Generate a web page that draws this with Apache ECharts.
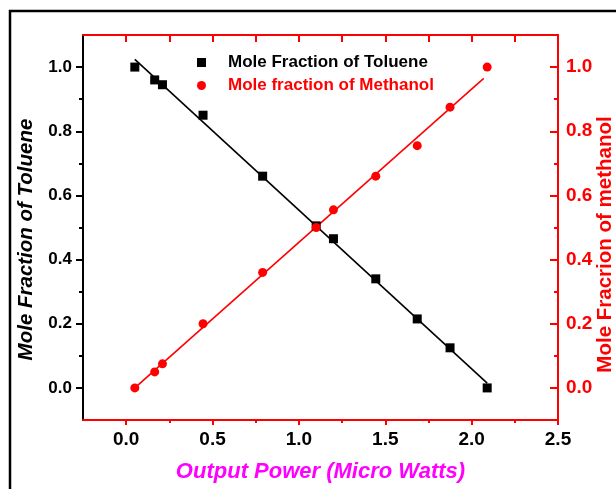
<!DOCTYPE html>
<html><head><meta charset="utf-8">
<script src="https://cdn.jsdelivr.net/npm/echarts@6/dist/echarts.min.js"></script>
<style>html,body{margin:0;padding:0;background:#fff}#c{width:616px;height:489px}</style>
</head><body><div id="c"></div>
<script>
// ---- data ----
const powerToluene = [0.05, 0.165, 0.21, 0.445, 0.79, 1.10, 1.20, 1.445, 1.685, 1.875, 2.09];
const tolueneFraction = [1.0, 0.96, 0.945, 0.85, 0.66, 0.505, 0.465, 0.34, 0.215, 0.125, 0.0];
const powerMethanol = [0.05, 0.165, 0.21, 0.445, 0.79, 1.10, 1.20, 1.445, 1.685, 1.875, 2.09];
const methanolFraction = [0.0, 0.05, 0.075, 0.2, 0.36, 0.50, 0.555, 0.66, 0.755, 0.875, 1.0];
const tolueneFitX = [0.05, 2.09];
const tolueneFitY = [1.024, 0.015];
const methanolFitX = [0.05, 2.07];
const methanolFitY = [0.0, 0.965];
const xMajorTicks = [0, 0.5, 1.0, 1.5, 2.0, 2.5];
const xMinorTicks = [0.25, 0.75, 1.25, 1.75, 2.25];
const xTopTicks = [0, 0.25, 0.5, 0.75, 1.0, 1.25, 1.5, 1.75, 2.0, 2.25];
const yMajorTicks = [0, 0.2, 0.4, 0.6, 0.8, 1.0];
const yMinorTicks = [0.1, 0.3, 0.5, 0.7, 0.9];
const nameToluene = 'Mole Fraction of Toluene';
const nameMethanol = 'Mole fraction of Methanol';

const FONT = '"Liberation Sans", Arial, sans-serif';
const zip = (a, b) => a.map((v, i) => [v, b[i]]);
const fmt = v => Number(v).toFixed(1);
const X_MIN = -0.25, X_MAX = 2.5, Y_MIN = -0.1, Y_MAX = 1.1;

const chart = echarts.init(document.getElementById('c'), null, {renderer: 'canvas'});
chart.setOption({
  animation: false,
  backgroundColor: '#fff',
  grid: {left: 83, top: 35, right: 58, bottom: 69, containLabel: false, outerBoundsMode: 'none'},
  graphic: [{
    type: 'rect', shape: {x: 10, y: 11, width: 700, height: 600},
    style: {fill: 'none', stroke: '#000', lineWidth: 2.5}, silent: true
  }],
  legend: {
    orient: 'vertical', left: 192, top: 49, itemWidth: 9, itemHeight: 9, itemGap: 6,
    textStyle: {fontFamily: FONT, fontSize: 17, fontWeight: 'bold', padding: [0, 0, 0, 17]},
    data: [
      {name: nameToluene, icon: 'rect', textStyle: {color: '#000'}},
      {name: nameMethanol, icon: 'circle', textStyle: {color: '#ff0000'}}
    ]
  },
  xAxis: [
    { type: 'value', position: 'bottom', min: X_MIN, max: X_MAX,
      name: 'Output Power (Micro Watts)', nameLocation: 'middle', nameGap: 41, nameMoveOverlap: false,
      nameTextStyle: {fontFamily: FONT, fontSize: 22, fontWeight: 'bold', fontStyle: 'italic', color: '#ff00ff'},
      axisLine: {show: true, onZero: false, lineStyle: {color: '#ff0000', width: 2}},
      axisTick: {show: true, inside: false, length: 5, customValues: xMajorTicks, lineStyle: {color: '#ff0000', width: 2}},
      axisLabel: {customValues: xMajorTicks, formatter: fmt, margin: 10, fontFamily: FONT, fontSize: 19, fontWeight: 'bold', color: '#000'},
      splitLine: {show: false} },
    { type: 'value', position: 'bottom', min: X_MIN, max: X_MAX,
      axisLine: {show: false, onZero: false},
      axisTick: {show: true, inside: false, length: 3, customValues: xMinorTicks, lineStyle: {color: '#ff0000', width: 2}},
      axisLabel: {show: false}, splitLine: {show: false} },
    { type: 'value', position: 'top', min: X_MIN, max: X_MAX,
      axisLine: {show: true, onZero: false, lineStyle: {color: '#ff0000', width: 2}},
      axisTick: {show: true, inside: true, length: 7, customValues: xTopTicks, lineStyle: {color: '#ff0000', width: 2}},
      axisLabel: {show: false}, splitLine: {show: false} }
  ],
  yAxis: [
    { type: 'value', position: 'left', min: Y_MIN, max: Y_MAX,
      name: 'Mole Fraction of Toluene', nameLocation: 'middle', nameGap: 47, nameRotate: 90, nameMoveOverlap: false,
      nameTextStyle: {fontFamily: FONT, fontSize: 20.5, fontWeight: 'bold', fontStyle: 'italic', color: '#000', padding: [0, 24, 0, 0]},
      axisLine: {show: true, onZero: false, lineStyle: {color: '#000', width: 2}},
      axisTick: {show: true, inside: false, length: 7, customValues: yMajorTicks, lineStyle: {color: '#000', width: 2}},
      axisLabel: {customValues: yMajorTicks, formatter: fmt, margin: 11, fontFamily: FONT, fontSize: 17, fontWeight: 'bold', color: '#000'},
      splitLine: {show: false} },
    { type: 'value', position: 'right', min: Y_MIN, max: Y_MAX,
      name: 'Mole Fracrion of methanol', nameLocation: 'middle', nameGap: 37, nameRotate: 90, nameMoveOverlap: false,
      nameTextStyle: {fontFamily: FONT, fontSize: 20.5, fontWeight: 'bold', color: '#ff0000', padding: [0, 34, 0, 0]},
      axisLine: {show: true, onZero: false, lineStyle: {color: '#ff0000', width: 2}},
      axisTick: {show: true, inside: true, length: 8, customValues: yMajorTicks, lineStyle: {color: '#ff0000', width: 2}},
      axisLabel: {customValues: yMajorTicks, formatter: fmt, margin: 8, fontFamily: FONT, fontSize: 19, fontWeight: 'bold', color: '#ff0000'},
      splitLine: {show: false} },
    { type: 'value', position: 'left', min: Y_MIN, max: Y_MAX,
      axisLine: {show: false, onZero: false},
      axisTick: {show: true, inside: false, length: 4, customValues: yMinorTicks, lineStyle: {color: '#000', width: 2}},
      axisLabel: {show: false}, splitLine: {show: false} },
    { type: 'value', position: 'right', min: Y_MIN, max: Y_MAX,
      axisLine: {show: false, onZero: false},
      axisTick: {show: true, inside: true, length: 4, customValues: yMinorTicks, lineStyle: {color: '#ff0000', width: 2}},
      axisLabel: {show: false}, splitLine: {show: false} }
  ],
  series: [
    { name: 'tolueneFit', type: 'line', xAxisIndex: 0, yAxisIndex: 0, data: zip(tolueneFitX, tolueneFitY),
      showSymbol: false, symbol: 'none', lineStyle: {color: '#000', width: 1.6}, z: 2, silent: true },
    { name: 'methanolFit', type: 'line', xAxisIndex: 0, yAxisIndex: 1, data: zip(methanolFitX, methanolFitY),
      showSymbol: false, symbol: 'none', lineStyle: {color: '#ff0000', width: 1.6}, z: 2, silent: true },
    { name: nameToluene, type: 'scatter', xAxisIndex: 0, yAxisIndex: 0, data: zip(powerToluene, tolueneFraction),
      symbol: 'rect', symbolSize: 9, itemStyle: {color: '#000', opacity: 1}, z: 3 },
    { name: nameMethanol, type: 'scatter', xAxisIndex: 0, yAxisIndex: 1, data: zip(powerMethanol, methanolFraction),
      symbol: 'circle', symbolSize: 9, itemStyle: {color: '#ff0000', opacity: 1}, z: 3 }
  ]
});
</script>
</body></html>
